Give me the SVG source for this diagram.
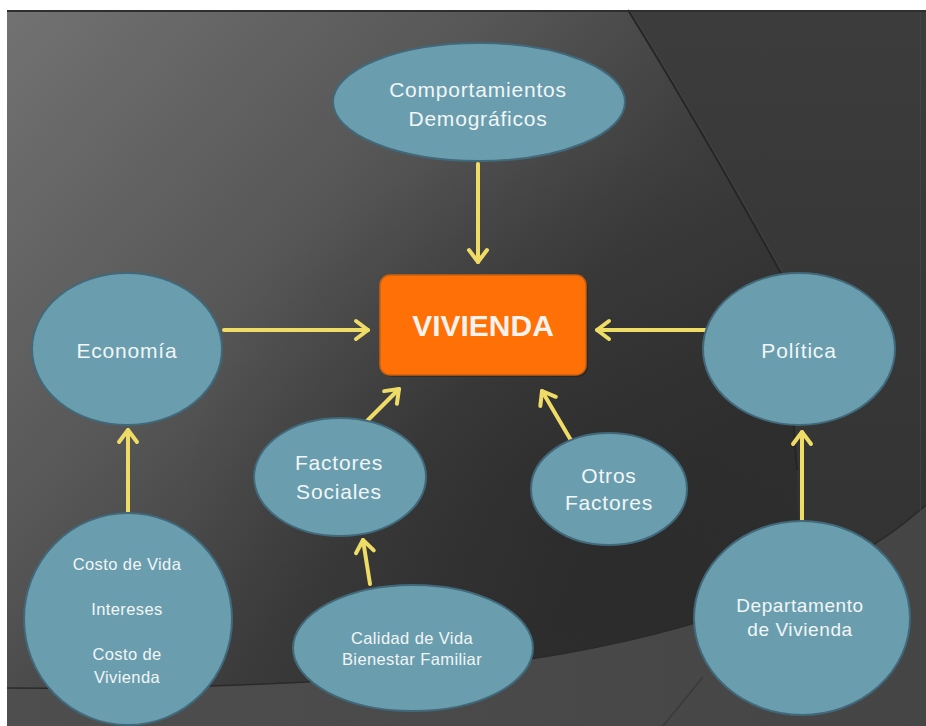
<svg xmlns="http://www.w3.org/2000/svg" width="926" height="726" viewBox="0 0 926 726">
<defs>
  <linearGradient id="bg" x1="0" y1="0" x2="1" y2="0.7">
    <stop offset="0" stop-color="#727272"/>
    <stop offset="0.35" stop-color="#575757"/>
    <stop offset="0.6" stop-color="#3c3c3c"/>
    <stop offset="0.8" stop-color="#313131"/>
    <stop offset="1" stop-color="#2e2e2e"/>
  </linearGradient>
  <radialGradient id="dark" cx="560" cy="520" r="380" gradientUnits="userSpaceOnUse">
    <stop offset="0" stop-color="#1c1c1c" stop-opacity="0.3"/>
    <stop offset="1" stop-color="#1c1c1c" stop-opacity="0"/>
  </radialGradient>
  <linearGradient id="right" x1="0" y1="0" x2="0" y2="1">
    <stop offset="0" stop-color="#3c3c3c"/>
    <stop offset="1" stop-color="#323232"/>
  </linearGradient>
  <linearGradient id="band" x1="0" y1="0" x2="1" y2="0">
    <stop offset="0" stop-color="#4e4e4e"/>
    <stop offset="1" stop-color="#454545"/>
  </linearGradient>
  <marker id="ah" markerUnits="userSpaceOnUse" viewBox="-20 -15 30 30" markerWidth="30" markerHeight="30" refX="0" refY="0" orient="auto">
    <path d="M-12,-9 L0,0 L-12,9" fill="none" stroke="#EEDC66" stroke-width="4" stroke-linecap="round" stroke-linejoin="round"/>
  </marker>
</defs>
<style>
  .node ellipse { fill: #6A9EAF; stroke: #41697A; stroke-width: 2; }
  .lbl { font-family: "Liberation Sans", Arial, sans-serif; fill: #F2F6F6; text-anchor: middle; }
  .big { font-size: 21px; letter-spacing: 0.8px; }
  .med { font-size: 19px; letter-spacing: 0.6px; }
  .sm { font-size: 16.5px; letter-spacing: 0.4px; }
  .conn line { stroke: #EEDC66; stroke-width: 4; stroke-linecap: round; marker-end: url(#ah); }
</style>

<!-- frame and background -->
<rect x="0" y="0" width="926" height="726" fill="#ffffff"/>
<rect x="7" y="10" width="919" height="716" fill="url(#bg)"/>
<rect x="7" y="10" width="919" height="716" fill="url(#dark)"/>
<path d="M628,10 Q 702,130 782,275 L 797,470 L 800,620 L926,540 L926,10 Z" fill="url(#right)"/>
<path d="M628,10 Q 702,130 782,275 L 797,470" fill="none" stroke="#262626" stroke-width="2"/>
<path d="M630,10 Q 704,130 784,275" fill="none" stroke="#4a4a4a" stroke-width="1" opacity="0.6"/>
<path d="M7,688 C 350,690 740,672 926,505 L926,726 L7,726 Z" fill="url(#band)"/>
<path d="M7,688 C 350,690 740,672 926,505" fill="none" stroke="#2a2a2a" stroke-width="1.5"/>
<path d="M703,677 L663,726" fill="none" stroke="#3a3a3a" stroke-width="1.5"/>
<rect x="7" y="10" width="919" height="2" fill="#2e2e2e"/>
<rect x="920" y="12" width="1" height="714" fill="#4a4a4a" opacity="0.6"/>

<!-- connectors -->
<g id="connectors" class="conn">
  <line x1="478" y1="164" x2="478" y2="262"/>
  <line x1="224" y1="330" x2="368" y2="330"/>
  <line x1="709" y1="330" x2="597" y2="330"/>
  <line x1="128" y1="512" x2="128" y2="430"/>
  <line x1="363" y1="425" x2="399" y2="389"/>
  <line x1="572" y1="442" x2="542" y2="391"/>
  <line x1="370" y1="584" x2="363" y2="540"/>
  <line x1="802" y1="520" x2="802" y2="432"/>
</g>

<!-- nodes -->
<g id="vivienda">
  <rect x="382" y="277" width="206" height="100" rx="10" fill="#1e1e1e" opacity="0.5"/>
  <rect x="380" y="275" width="206" height="100" rx="10" fill="#FF7006" stroke="#C9600E" stroke-width="1.5"/>
  <text x="483" y="336" font-family="'Liberation Sans', Arial, sans-serif" font-size="30" font-weight="bold" fill="#F6F2EE" text-anchor="middle">VIVIENDA</text>
</g>

<g id="comportamientos" class="node">
  <ellipse cx="479" cy="102" rx="146" ry="59"/>
  <text class="lbl big" x="478" y="97">Comportamientos</text>
  <text class="lbl big" x="478" y="126">Demográficos</text>
</g>

<g id="economia" class="node">
  <ellipse cx="127" cy="349" rx="95" ry="76"/>
  <text class="lbl big" x="127" y="358">Economía</text>
</g>

<g id="politica" class="node">
  <ellipse cx="799" cy="349" rx="96" ry="76"/>
  <text class="lbl big" x="799" y="358">Política</text>
</g>

<g id="factores-sociales" class="node">
  <ellipse cx="340" cy="477" rx="86" ry="59"/>
  <text class="lbl big" x="339" y="470">Factores</text>
  <text class="lbl big" x="339" y="499">Sociales</text>
</g>

<g id="otros-factores" class="node">
  <ellipse cx="609" cy="489" rx="78" ry="56"/>
  <text class="lbl big" x="609" y="483">Otros</text>
  <text class="lbl big" x="609" y="510">Factores</text>
</g>

<g id="costo" class="node">
  <ellipse cx="128" cy="619" rx="104" ry="106"/>
  <text class="lbl sm" x="127" y="570">Costo de Vida</text>
  <text class="lbl sm" x="127" y="615">Intereses</text>
  <text class="lbl sm" x="127" y="660">Costo de</text>
  <text class="lbl sm" x="127" y="683">Vivienda</text>
</g>

<g id="calidad" class="node">
  <ellipse cx="413" cy="648" rx="120" ry="63"/>
  <text class="lbl sm" x="412" y="644">Calidad de Vida</text>
  <text class="lbl sm" x="412" y="665">Bienestar Familiar</text>
</g>

<g id="departamento" class="node">
  <ellipse cx="802" cy="618" rx="108" ry="97"/>
  <text class="lbl med" x="800" y="612">Departamento</text>
  <text class="lbl med" x="800" y="636">de Vivienda</text>
</g>
</svg>
